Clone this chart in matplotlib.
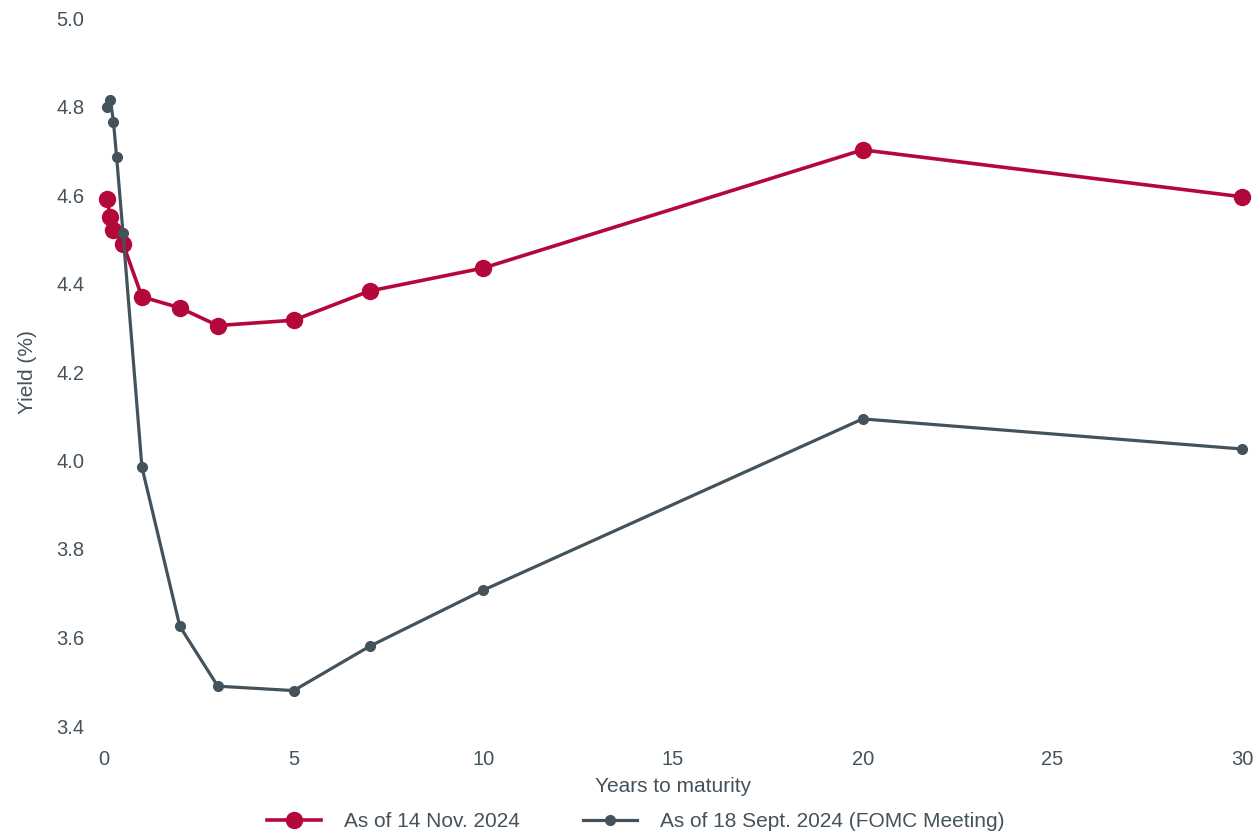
import matplotlib
matplotlib.use('Agg')
import matplotlib.pyplot as plt

# maturities in years
mat_nov = [1/12, 2/12, 3/12, 6/12, 1, 2, 3, 5, 7, 10, 20, 30]
yld_nov = [4.59, 4.55, 4.52, 4.49, 4.37, 4.345, 4.305, 4.317, 4.383, 4.435, 4.702, 4.596]

mat_sep = [1/12, 2/12, 3/12, 4/12, 6/12, 1, 2, 3, 5, 7, 10, 20, 30]
yld_sep = [4.80, 4.815, 4.765, 4.685, 4.515, 3.985, 3.625, 3.49, 3.48, 3.58, 3.707, 4.094, 4.026]

xticks = [0, 5, 10, 15, 20, 25, 30]
yticks = [3.4, 3.6, 3.8, 4.0, 4.2, 4.4, 4.6, 4.8, 5.0]

red = '#b5083a'
grey = '#44525c'
txt = '#44525c'
font = ['Liberation Sans', 'DejaVu Sans']

fig = plt.figure(figsize=(12.59, 8.35), dpi=100)
ax = fig.add_axes([104/1259, 1-726/835, (1242-104)/1259, (726-18)/835])

ax.plot(mat_nov, yld_nov, color=red, lw=2.6, marker='o', ms=11.5,
        label='As of 14 Nov. 2024', zorder=2, clip_on=False)
ax.plot(mat_sep, yld_sep, color=grey, lw=2.3, marker='o', ms=7,
        label='As of 18 Sept. 2024 (FOMC Meeting)', zorder=3, clip_on=False)

ax.set_xlim(0, 30)
ax.set_ylim(3.4, 5.0)
ax.set_xticks(xticks)
ax.set_yticks(yticks)
ax.set_yticklabels(['%.1f' % v for v in yticks], family=font, fontsize=14.5, color=txt)
ax.set_xticklabels([str(v) for v in xticks], family=font, fontsize=14.5, color=txt)
ax.tick_params(length=0)
ax.tick_params(axis='x', pad=17)
ax.tick_params(axis='y', pad=14)
for s in ax.spines.values():
    s.set_visible(False)

ax.set_xlabel('Years to maturity', family=font, fontsize=15, color=txt, labelpad=6)
ax.set_ylabel('Yield (%)', family=font, fontsize=15, color=txt, labelpad=14)

leg = fig.legend(loc='lower center', bbox_to_anchor=(0.505, -0.018), ncol=2, frameon=False,
                 prop={'family': font, 'size': 15}, handlelength=2.6,
                 columnspacing=3.0, handletextpad=1.1)
for t in leg.get_texts():
    t.set_color(txt)

fig.savefig('out.png', dpi=100)
